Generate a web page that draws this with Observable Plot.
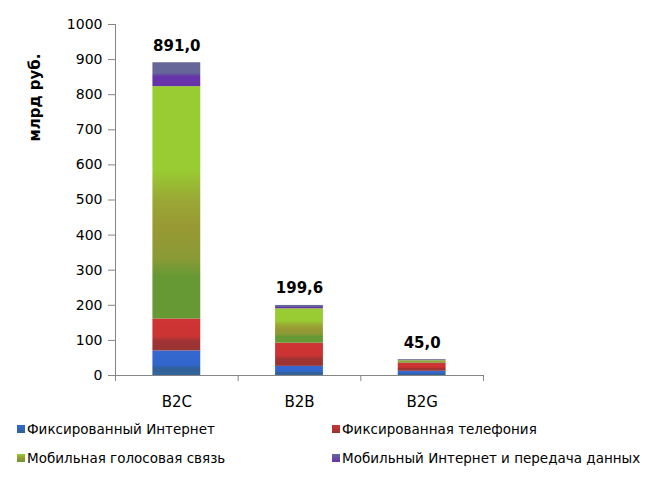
<!DOCTYPE html>
<html><head><meta charset="utf-8">
<script src="https://cdn.jsdelivr.net/npm/d3@7"></script>
<script src="https://cdn.jsdelivr.net/npm/@observablehq/plot@0.6"></script>
<style>
body{margin:0;background:#fff;font-family:"DejaVu Sans",Verdana,sans-serif;}
#wrap{position:relative;width:650px;height:494px;overflow:hidden;}
.leg{position:absolute;font-size:13.5px;line-height:16px;color:#000;white-space:nowrap;display:flex;align-items:center;}
.sw{width:8px;height:8px;margin-right:2px;display:inline-block;}
</style></head><body><div id="wrap"></div>
<script>
// ---- data ----
const categories = ["B2C", "B2B", "B2G"];
const series = ["Фиксированный Интернет", "Фиксированная телефония", "Мобильная голосовая связь", "Мобильный Интернет и передача данных"];
const fixedInternet = [70, 26, 12];
const fixedPhone = [91, 66, 23];
const mobileVoice = [662, 98, 7];
const mobileData = [68, 9.6, 3];
const totalLabels = ["891,0", "199,6", "45,0"];
const yTicks = [0, 100, 200, 300, 400, 500, 600, 700, 800, 900, 1000];
const yTitle = ["млрд руб."];

// ---- styles ----
const gradients = [
  {id: "gFixNet", stops: [[0, "#3468d0"], [0.6, "#3366cc"], [0.72, "#2f6099"], [1, "#33669a"]], css: "linear-gradient(#3468d0,#2f6099)"},
  {id: "gFixTel", stops: [[0, "#d03434"], [0.55, "#cc3333"], [0.7, "#a03333"], [1, "#993333"]], css: "linear-gradient(#d03434,#993333)"},
  {id: "gMobVoice", stops: [[0, "#99cc33"], [0.36, "#99cc33"], [0.48, "#9aaa35"], [0.6, "#999933"], [0.74, "#8a9a35"], [0.82, "#669933"], [1, "#669933"]], css: "linear-gradient(#99cc33,#999933,#669933)"},
  {id: "gMobData", stops: [[0, "#666699"], [0.45, "#666699"], [0.6, "#6633aa"], [1, "#6633a8"]], css: "linear-gradient(#666699,#6633aa)"}
];
const axisGray = "#868686";

const valuesBySeries = [fixedInternet, fixedPhone, mobileVoice, mobileData];
const data = [];
series.forEach((s, i) => categories.forEach((c, j) => data.push({category: c, series: s, value: valuesBySeries[i][j]})));
const totals = categories.map((c, j) => ({category: c, total: d3.sum(valuesBySeries, v => v[j]), label: totalLabels[j]}));

const plot = Plot.plot({
  width: 650,
  height: 415,
  marginLeft: 115,
  marginRight: 167,
  marginTop: 24,
  marginBottom: 40,
  style: {fontFamily: "'DejaVu Sans', Verdana, sans-serif", fontSize: "14px", color: "#000", background: "#fff"},
  x: {domain: categories, paddingInner: 0.61, paddingOuter: 0.305, round: false, label: null},
  y: {domain: [0, 1000], label: null},
  color: {domain: series, range: gradients.map(g => `url(#${g.id})`)},
  marks: [
    Plot.barY(data, {x: "category", y: "value", fill: "series", order: null, inset: 0}),
    Plot.axisY({ticks: yTicks, tickFormat: d => String(d), tickSize: 7, tickPadding: 6, stroke: axisGray, fill: "#000", label: null, fontSize: 14}),
    Plot.axisX({tickSize: 0, tickPadding: 21, label: null, fontSize: 15}),
    Plot.text(totals, {x: "category", y: "total", text: "label", dy: -12, lineAnchor: "bottom", fontWeight: "bold", fontSize: 15, fill: "#000"}),
    Plot.text(yTitle, {frameAnchor: "top-left", dx: -80, dy: 73, rotate: -90, textAnchor: "middle", lineAnchor: "middle", fontWeight: "bold", fontSize: 15, fill: "#000"})
  ]
});

// gradient defs
const svg = d3.select(plot);
const defs = svg.insert("defs", ":first-child");
gradients.forEach(g => {
  const lg = defs.append("linearGradient").attr("id", g.id).attr("x1", 0).attr("y1", 0).attr("x2", 0).attr("y2", 1);
  g.stops.forEach(([o, c]) => lg.append("stop").attr("offset", o).attr("stop-color", c));
});

// axis lines drawn through the plot's scales
const xs = plot.scale("x"), ys = plot.scale("y");
const [xr0, xr1] = xs.range;
const yBase = ys.apply(0), yTop = ys.apply(1000);
const ax = svg.append("g").attr("stroke", axisGray).attr("fill", "none");
ax.append("line").attr("x1", xr0 + 0.5).attr("x2", xr0 + 0.5).attr("y1", yTop).attr("y2", yBase + 6);
ax.append("line").attr("x1", xr0).attr("x2", xr1).attr("y1", yBase + 0.5).attr("y2", yBase + 0.5);
for (let k = 0; k <= categories.length; k++) {
  const xb = xr0 + k * (xr1 - xr0) / categories.length;
  ax.append("line").attr("x1", xb + 0.5).attr("x2", xb + 0.5).attr("y1", yBase).attr("y2", yBase + 6);
}

const wrap = document.getElementById("wrap");
wrap.appendChild(plot);

// legend
const legPos = [[17, 421], [332, 421], [17, 450], [332, 450]];
series.forEach((s, i) => {
  const d = document.createElement("div");
  d.className = "leg";
  d.style.left = legPos[i][0] + "px";
  d.style.top = legPos[i][1] + "px";
  const sw = document.createElement("span");
  sw.className = "sw";
  sw.style.background = gradients[i].css;
  d.appendChild(sw);
  d.appendChild(document.createTextNode(s));
  wrap.appendChild(d);
});
</script>
</body></html>
